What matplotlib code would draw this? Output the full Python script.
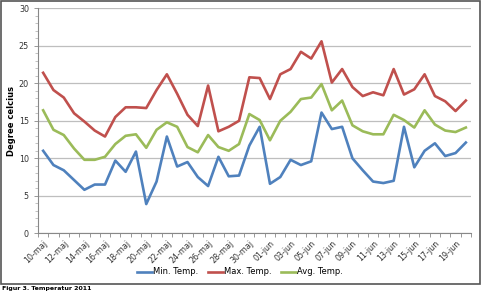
import matplotlib.pyplot as plt
import numpy as np
from matplotlib.patches import Rectangle

days = [f'{d:02d}-maj' for d in range(10, 32)] + [f'{d:02d}-jun' for d in range(1, 21)]

min_temp = [11.0, 9.1, 8.4, 7.1, 5.8, 6.5, 6.5, 9.7, 8.2, 10.9,
            3.9, 6.9, 12.9, 8.9, 9.5, 7.5, 6.3, 10.2, 7.6, 7.7,
            11.7, 14.2, 6.6, 7.5, 9.8, 9.1, 9.6, 16.1, 13.9, 14.2,
            10.0, 8.4, 6.9, 6.7, 7.0, 14.2, 8.8, 11.0, 12.0, 10.3,
            10.7, 12.1]
max_temp = [21.4, 19.1, 18.1, 16.0, 14.9, 13.7, 12.9, 15.5, 16.8, 16.8,
            16.7, 19.1, 21.2, 18.6, 15.8, 14.3, 19.7, 13.6, 14.2, 15.0,
            20.8, 20.7, 17.9, 21.2, 21.9, 24.2, 23.3, 25.6, 20.1, 21.9,
            19.5, 18.3, 18.8, 18.4, 21.9, 18.5, 19.2, 21.2, 18.3, 17.6,
            16.3, 17.7]
avg_temp = [16.4, 13.8, 13.1, 11.3, 9.8, 9.8, 10.2, 11.9, 13.0, 13.2,
            11.4, 13.8, 14.8, 14.2, 11.5, 10.8, 13.1, 11.5, 11.0, 11.9,
            15.9, 15.1, 12.4, 15.0, 16.2, 17.9, 18.1, 19.9, 16.4, 17.7,
            14.4, 13.6, 13.2, 13.2, 15.8, 15.1, 14.1, 16.4, 14.5, 13.7,
            13.5, 14.1]

x = np.arange(len(days))

fig = plt.figure(figsize=(4.85, 2.91), dpi=100)
ax = fig.add_axes([38 / 485, 1 - 233.3 / 291, 433 / 485, 225 / 291])

ax.plot(x, min_temp, color='#4F81BD', linewidth=1.9, label='Min. Temp.')
ax.plot(x, max_temp, color='#C0504D', linewidth=1.9, label='Max. Temp.')
ax.plot(x, avg_temp, color='#9BBB59', linewidth=1.9, label='Avg. Temp.')

ax.set_xlim(-0.5, len(days) - 0.5)
ax.set_ylim(0, 30)
ax.set_yticks(range(0, 31, 5))
ax.set_yticks(range(0, 31), minor=True)
ax.yaxis.grid(True, color='#BEBEBE', linewidth=0.9)
ax.set_axisbelow(True)

ax.set_xticks(x[::2])
ax.set_xticklabels(days[::2], rotation=45, ha='right', rotation_mode='anchor', fontsize=5.8, color='#333333')
ax.set_xticks(np.arange(-0.5, len(days)), minor=True)
ax.tick_params(axis='x', which='major', length=0, pad=4)
ax.tick_params(axis='x', which='minor', length=3, color='#888888', width=0.6, direction='out')
ax.tick_params(axis='y', which='major', length=3, color='#888888', width=0.6, labelsize=5.8, labelcolor='#333333')
ax.tick_params(axis='y', which='minor', length=2, color='#AAAAAA', width=0.5)

for side in ['top', 'right']:
    ax.spines[side].set_visible(False)
for side in ['left', 'bottom']:
    ax.spines[side].set_color('#888888')
    ax.spines[side].set_linewidth(0.8)

ax.set_ylabel('Degree celcius', fontsize=6, fontweight='bold', labelpad=2)

fig.legend(loc='center', bbox_to_anchor=(240 / 485, 1 - 272 / 291), ncol=3, frameon=False,
           fontsize=6, handlelength=1.8, columnspacing=1.2, handletextpad=0.05)

fig.patches.append(Rectangle((0.5 / 485, 1 - 284 / 291), 480 / 485, 283.5 / 291, transform=fig.transFigure,
                             fill=False, edgecolor='#555555', linewidth=1.2))
fig.text(2 / 485, 1 - 288.2 / 291, 'Figur 3. Temperatur 2011', fontsize=4.5, fontweight='bold', va='center')

fig.savefig('out.png', dpi=100)
